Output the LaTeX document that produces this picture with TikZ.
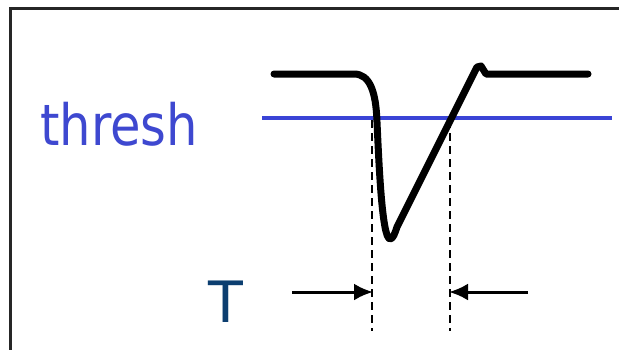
\documentclass[tikz,border=0pt]{standalone}
\usepackage{fontspec}
\setmainfont{DejaVu Sans}
\newfontfamily\narrowfont[FakeStretch=0.87]{DejaVu Sans}
\usetikzlibrary{arrows.meta}
\definecolor{threshblue}{RGB}{62,72,208}
\definecolor{lineblue}{RGB}{58,68,214}
\definecolor{tblue}{RGB}{12,62,112}
\tikzset{
  frame/.style={line width=2.2pt,black!85},
  signal/.style={line width=7pt,line cap=round,line join=round},
  threshline/.style={line width=3.4pt,lineblue},
  guide/.style={line width=2.5pt,dash pattern=on 8pt off 5pt},
  marker/.style={line width=3pt,-{Latex[length=19pt,width=17pt]}},
  lbl/.style={inner sep=0pt,anchor=base west}
}
\begin{document}
\begin{tikzpicture}[x=1pt,y=-1pt]
\useasboundingbox (0,0) rectangle (619,349);
\fill[white] (0,0) rectangle (619,349);
% frame (top and left edges)
\draw[frame] (10.5,360) -- (10.5,8.5) -- (630,8.5);
% threshold
\node[lbl,text=threshblue,font=\narrowfont\fontsize{57}{57}\selectfont] (thresh) at (40,145) {thresh};
\coordinate (tl) at (262,118);
\coordinate (tr) at (612,118);
\draw[threshline] (tl) -- (tr);
% signal
\coordinate (s0) at (274,74);
\coordinate (s1) at (588,74);
\draw[signal] (s0) -- (354,74) .. controls (370,74) and (376,92) .. (377,122)
  .. controls (379,165) and (382,238) .. (390,239)
  .. controls (393,239) and (395,233) .. (397,227)
  -- (477,67) -- (481,66) -- (486,74) -- (s1);
% guides
\coordinate (g1t) at (372,120);
\coordinate (g1b) at (372,331);
\coordinate (g2t) at (450,120);
\coordinate (g2b) at (450,331);
\draw[guide] (g1t) -- (g1b);
\draw[guide] (g2t) -- (g2b);
% T label and arrows
\node[lbl,text=tblue,font=\fontsize{57}{57}\selectfont] (T) at (208,322) {T};
\coordinate (a1s) at (292,292);
\coordinate (a1e) at (373,292);
\coordinate (a2s) at (528,292);
\coordinate (a2e) at (449,292);
\draw[marker] (a1s) -- (a1e);
\draw[marker] (a2s) -- (a2e);
\end{tikzpicture}
\end{document}
